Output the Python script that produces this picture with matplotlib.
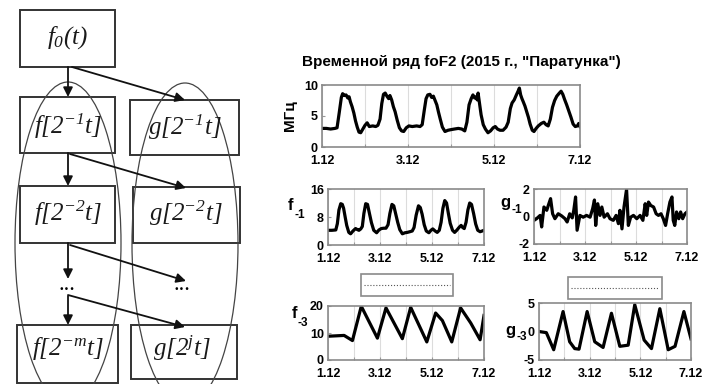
import numpy as np
import matplotlib
matplotlib.use('Agg')
import matplotlib.pyplot as plt
from matplotlib.patches import Rectangle, Ellipse

plt.rcParams['font.family'] = ['Liberation Sans', 'DejaVu Sans']
plt.rcParams['mathtext.fontset'] = 'custom'
plt.rcParams['mathtext.rm'] = 'Liberation Serif:italic'
plt.rcParams['mathtext.it'] = 'Liberation Serif:italic'

# ---- data (days since 1.12) ----
day_ticks = [0, 1, 2, 3, 4, 5, 6]
day_labels = ['1.12', '', '3.12', '', '5.12', '', '7.12']

fof2_day = [0.00, 0.10, 0.20, 0.30, 0.35, 0.40, 0.45, 0.48, 0.52, 0.56, 0.60, 0.63, 0.66, 0.70,
            0.74, 0.78, 0.82, 0.86, 0.90, 0.95, 1.00, 1.05, 1.10, 1.18, 1.25, 1.30, 1.35, 1.39,
            1.43, 1.47, 1.51, 1.55, 1.58, 1.62, 1.66, 1.70, 1.75, 1.80, 1.85, 1.90, 1.96, 2.02,
            2.10, 2.20, 2.28, 2.33, 2.38, 2.42, 2.46, 2.51, 2.55, 2.59, 2.63, 2.67, 2.71, 2.75,
            2.80, 2.86, 2.93, 3.00, 3.08, 3.17, 3.25, 3.32, 3.37, 3.42, 3.47, 3.51, 3.55, 3.58,
            3.61, 3.63, 3.66, 3.70, 3.75, 3.80, 3.86, 3.92, 3.98, 4.03, 4.08, 4.14, 4.21, 4.28,
            4.33, 4.38, 4.42, 4.47, 4.52, 4.56, 4.59, 4.62, 4.65, 4.68, 4.72, 4.76, 4.80, 4.84,
            4.89, 4.93, 4.98, 5.03, 5.10, 5.16, 5.21, 5.26, 5.31, 5.36, 5.41, 5.46, 5.52, 5.56,
            5.60, 5.64, 5.69, 5.74, 5.79, 5.84, 5.89, 5.94, 5.97, 6.00]
fof2_mhz = [3.0, 3.0, 2.9, 3.0, 3.1, 5.5, 8.0, 8.6, 8.3, 8.4, 7.9, 8.1, 7.3, 6.5,
            5.5, 4.2, 3.2, 2.4, 2.3, 2.9, 3.5, 3.9, 3.3, 3.4, 3.3, 3.5, 4.5, 7.0,
            8.5, 8.7, 8.2, 7.8, 8.3, 7.6, 6.5, 5.7, 4.3, 3.1, 2.6, 2.5, 3.1, 3.4,
            3.3, 3.4, 3.3, 3.6, 6.0, 7.8, 8.4, 8.5, 8.0, 8.2, 7.5, 6.8, 5.6, 4.5,
            3.2, 2.5, 2.7, 2.8, 2.9, 3.0, 2.9, 2.6, 4.0, 6.8, 7.8, 8.4, 7.9, 8.1,
            7.6, 8.7, 7.2, 5.2, 3.6, 2.9, 2.3, 2.6, 3.1, 3.3, 2.9, 2.7, 2.7, 3.2,
            4.0, 6.2, 7.1, 7.6, 8.4, 9.0, 9.5, 8.4, 7.8, 7.3, 6.6, 5.7, 4.8, 3.7,
            2.7, 2.5, 3.0, 3.4, 3.8, 4.0, 3.6, 3.4, 4.5, 6.4, 7.5, 8.2, 8.7, 9.0,
            8.5, 7.7, 6.8, 5.8, 4.8, 3.7, 3.3, 3.4, 3.8, 3.3]

f1_day = [0.00, 0.15, 0.30, 0.36, 0.42, 0.49, 0.55, 0.60, 0.66, 0.72, 0.80, 0.87, 0.96, 1.06,
          1.13, 1.19, 1.26, 1.32, 1.38, 1.45, 1.52, 1.58, 1.67, 1.76, 1.87, 1.96, 2.05, 2.15,
          2.23, 2.31, 2.38, 2.46, 2.53, 2.60, 2.68, 2.76, 2.86, 2.96, 3.05, 3.15, 3.24, 3.31,
          3.39, 3.48, 3.55, 3.62, 3.70, 3.78, 3.88, 3.96, 4.03, 4.12, 4.20, 4.28, 4.35, 4.42,
          4.49, 4.56, 4.63, 4.70, 4.79, 4.87, 4.95, 5.05, 5.12, 5.18, 5.24, 5.31, 5.38, 5.45,
          5.52, 5.60, 5.68, 5.76, 5.85, 5.93, 6.00]
f1_val = [4.2, 4.2, 4.3, 6.1, 10.0, 11.8, 11.6, 10.5, 8.0, 5.6, 3.6, 3.2, 4.0, 4.7,
          4.4, 4.2, 4.6, 5.3, 9.0, 11.8, 11.6, 9.5, 6.4, 4.2, 3.5, 4.3, 4.7, 4.8,
          4.8, 5.8, 9.0, 11.6, 11.2, 9.0, 6.5, 4.4, 3.2, 3.5, 3.6, 3.8, 4.0, 5.0,
          8.5, 11.2, 10.7, 8.8, 5.8, 4.0, 3.5, 4.2, 4.6, 4.0, 3.6, 4.2, 6.5, 10.5,
          12.7, 12.0, 9.0, 6.2, 4.2, 3.6, 4.2, 5.1, 5.6, 5.0, 4.7, 6.5, 10.0, 12.0,
          11.6, 9.0, 6.0, 4.2, 3.8, 4.0, 4.2]

g1_day = [0.00, 0.10, 0.24, 0.30, 0.39, 0.50, 0.56, 0.65, 0.73, 0.82, 0.95, 1.08, 1.21, 1.30,
          1.40, 1.50, 1.56, 1.63, 1.69, 1.80, 1.93, 2.06, 2.20, 2.30, 2.37, 2.42, 2.50, 2.59,
          2.66, 2.75, 2.88, 2.98, 3.11, 3.22, 3.31, 3.37, 3.45, 3.53, 3.63, 3.70, 3.79, 3.90,
          4.03, 4.16, 4.27, 4.36, 4.42, 4.49, 4.58, 4.69, 4.79, 4.88, 4.98, 5.07, 5.16, 5.24,
          5.33, 5.41, 5.46, 5.52, 5.59, 5.68, 5.75, 5.83, 5.92, 6.00]
g1_val = [-0.28, -0.16, 0.08, -0.76, 0.69, 0.45, 0.80, 1.30, 0.20, -0.16, 0.20, 0.05, -0.15, -0.40,
          0.20, -0.10, 0.45, 1.42, -1.00, 0.08, -0.05, 0.08, -0.05, 0.57, 1.20, -0.65, 0.93, 0.08,
          0.69, -0.05, 0.20, -0.16, -0.28, 0.08, -0.52, 0.45, -0.90, 0.69, 1.98, -0.65, -0.05, 0.08,
          -0.16, 0.08, -0.28, 0.93, 0.08, 1.05, 0.80, 0.69, 0.20, 0.08, 0.20, -0.16, -0.65, 0.20,
          1.05, 1.42, -0.28, -0.65, 0.33, -0.16, 0.33, -0.16, 0.20, 0.33]

f3_day = [0.00, 0.62, 0.94, 1.28, 1.90, 2.23, 2.86, 3.18, 3.80, 4.14, 4.40, 4.76, 5.10, 5.49, 5.85, 6.00]
f3_val = [8.8, 9.1, 7.2, 19.9, 8.1, 19.3, 7.9, 19.5, 6.7, 17.4, 14.6, 6.7, 19.3, 13.7, 7.5, 16.5]

g3_day = [0.00, 0.29, 0.58, 0.95, 1.21, 1.41, 1.58, 1.90, 2.20, 2.53, 2.86, 3.19, 3.52, 3.78,
          4.15, 4.44, 4.77, 5.10, 5.37, 5.72, 6.00]
g3_val = [0.0, -0.2, -3.2, 3.5, -1.8, -3.0, -3.1, 3.5, -1.8, -2.8, 3.2, -2.6, -2.4, 4.7,
          -1.5, -3.0, 4.0, -3.2, -2.6, 3.5, -1.3]

W, H = 702, 384
fig = plt.figure(figsize=(W / 100, H / 100), dpi=100)

# overlay axes in pixel coordinates for the scheme and loose labels
ov = fig.add_axes([0, 0, 1, 1])
ov.set_xlim(0, W)
ov.set_ylim(H, 0)
ov.axis('off')

boxes = [(20, 10, 95, 57), (20, 97, 95, 56), (130, 100, 109, 55),
         (20, 186, 95, 57), (133, 187, 107, 56), (17, 325, 101, 58), (131, 325, 106, 54)]
for x, y, w, h in boxes:
    ov.add_patch(Rectangle((x, y), w, h, fill=False, ec='#333333', lw=1.4))

ov.add_patch(Ellipse((68, 243), 106, 322, fill=False, ec='#444444', lw=0.9))
ov.add_patch(Ellipse((185, 244), 106, 322, fill=False, ec='#444444', lw=0.9))

arrows = [((68, 67), (68, 97)), ((72, 67), (185, 100)),
          ((68, 153), (68, 186)), ((70, 154), (186, 188)),
          ((68, 243), (68, 279)), ((70, 245), (186, 281)),
          ((68, 296), (68, 325)), ((68, 295), (185, 327))]
for (x0, y0), (x1, y1) in arrows:
    ov.annotate('', xy=(x1, y1), xytext=(x0, y0),
                arrowprops=dict(arrowstyle='-|>', color='#111111', lw=1.3,
                                mutation_scale=14, shrinkA=0, shrinkB=0))

labels = [(68, 38, r'$f_0(t)$'), (68, 126, r'$f[2^{-1}t]$'), (185, 127, r'$g[2^{-1}t]$'),
          (68, 213, r'$f[2^{-2}t]$'), (186, 213, r'$g[2^{-2}t]$'),
          (68, 348, r'$f[2^{-m}t]$'), (182, 348, r'$g[2^{j}t]$')]
for x, y, s in labels:
    ov.text(x, y, s, ha='center', va='center', fontsize=18, color='#1a1a1a')
ov.text(67, 286, '...', ha='center', va='center', fontsize=16, family='Liberation Serif')
ov.text(182, 286, '...', ha='center', va='center', fontsize=16, family='Liberation Serif')

ov.text(461, 62, 'Временной ряд foF2 (2015 г., "Паратунка")', ha='center', va='center',
        fontsize=11, fontweight='bold')


def panel(rect, xs, ys, ylim, yticks):
    x0, y0, x1, y1 = rect
    ax = fig.add_axes([x0 / W, 1 - y1 / H, (x1 - x0) / W, (y1 - y0) / H])
    ax.plot(xs, ys, color='black', lw=2.3)
    ax.set_xlim(0, 6)
    ax.set_ylim(*ylim)
    ax.set_xticks(day_ticks)
    ax.set_xticklabels(day_labels, fontweight='bold', fontsize=9)
    ax.set_yticks(yticks)
    ax.set_yticklabels([str(t) for t in yticks], fontweight='bold', fontsize=9)
    ax.grid(True, axis='x', color='#dcdcdc', lw=0.8)
    ax.tick_params(direction='in', length=2.5, color='#999999', pad=3)
    ax.tick_params(axis='x', pad=6)
    for sp in ax.spines.values():
        sp.set_color('#8a8a8a')
        sp.set_linewidth(1.2)
    return ax


ax_top = panel((322, 85, 580, 147), fof2_day, fof2_mhz, (0, 10), [0, 5, 10])
ax_top.set_ylabel('МГц', fontweight='bold', fontsize=11, labelpad=5)

panel((328, 189, 484, 245), f1_day, f1_val, (0, 16), [0, 8, 16])
panel((534, 189, 687, 244), g1_day, g1_val, (-2, 2), [-2, 0, 2])
panel((328, 306, 484, 360), f3_day, f3_val, (0, 20), [0, 10, 20])
panel((539, 303, 691, 360), g3_day, g3_val, (-5, 5), [-5, 0, 5])

# composite y labels (letter + lowered index)
for x, y, s, sub, dx, dy in [(291, 206, 'f', '-1', 9, 9), (505, 203, 'g', '-1', 12, 7),
                             (294, 314, 'f', '-3', 9, 9), (510, 330, 'g', '-3', 12, 7)]:
    ov.text(x, y, s, ha='center', va='center', fontsize=12, fontweight='bold')
    ov.text(x + dx, y + dy, sub, ha='center', va='center', fontsize=8.5, fontweight='bold')

# empty legend boxes above the lower panels
for x, y, w, h in [(361, 274, 92, 22), (568, 277, 94, 22)]:
    ov.add_patch(Rectangle((x, y), w, h, fc='white', ec='#8a8a8a', lw=1.2))
    ov.plot([x + 3, x + w - 3], [y + h / 2, y + h / 2], color='#555555', lw=0.8, ls=':')

fig.savefig('out.png', dpi=100)
